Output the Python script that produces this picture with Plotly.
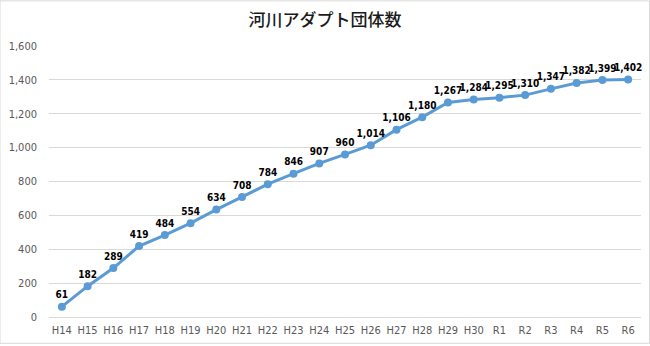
import plotly.graph_objects as go

# 河川アダプト団体数 (年度別)
years = ["H14", "H15", "H16", "H17", "H18", "H19", "H20", "H21", "H22", "H23",
         "H24", "H25", "H26", "H27", "H28", "H29", "H30", "R1", "R2", "R3",
         "R4", "R5", "R6"]
groups = [61, 182, 289, 419, 484, 554, 634, 708, 784, 846,
          907, 960, 1014, 1106, 1180, 1267, 1284, 1295, 1310, 1347,
          1382, 1399, 1402]
y_ticks = [0, 200, 400, 600, 800, 1000, 1200, 1400, 1600]

line_color = "#5B9BD5"
narrow = "DejaVu Sans Condensed, Liberation Sans Narrow, sans-serif"
tick_font = dict(family=narrow, size=11, color="#595959")

fig = go.Figure()
fig.add_trace(go.Scatter(
    x=years,
    y=groups,
    mode="lines+markers+text",
    line=dict(color=line_color, width=3),
    marker=dict(color=line_color, size=8),
    text=[f"{v:,}" for v in groups],
    textposition="top center",
    textfont=dict(family=narrow, size=10, color="#000000", weight="bold"),
    cliponaxis=False,
    hoverinfo="x+y",
))

fig.update_layout(
    width=650,
    height=346,
    paper_bgcolor="white",
    plot_bgcolor="white",
    margin=dict(l=49, r=9, t=46, b=27),
    showlegend=False,
    title=dict(
        text="河川アダプト団体数",
        x=0.5,
        xanchor="center",
        y=0.942,
        yanchor="middle",
        font=dict(family="Noto Sans CJK JP, sans-serif", size=17, color="#1a1a1a", weight=500),
    ),
    xaxis=dict(
        type="category",
        range=[-0.5, len(years) - 0.5],
        showgrid=False,
        showline=False,
        ticks="",
        tickfont=tick_font,
        ticklabelstandoff=5,
    ),
    yaxis=dict(
        range=[0, 1600],
        tickvals=y_ticks,
        ticktext=[f"{v:,}" for v in y_ticks],
        showgrid=True,
        gridcolor="#D9D9D9",
        gridwidth=1,
        zeroline=True,
        zerolinecolor="#D9D9D9",
        zerolinewidth=1,
        showline=False,
        ticks="",
        tickfont=tick_font,
        ticklabelstandoff=11,
    ),
    shapes=[dict(
        type="rect", xref="paper", yref="paper",
        x0=-49 / 592, x1=1 + 8.5 / 592, y0=-26.5 / 273, y1=1 + 45.5 / 273,
        line=dict(color="#D9D9D9", width=1),
    )],
)

fig.write_html("out.html")
